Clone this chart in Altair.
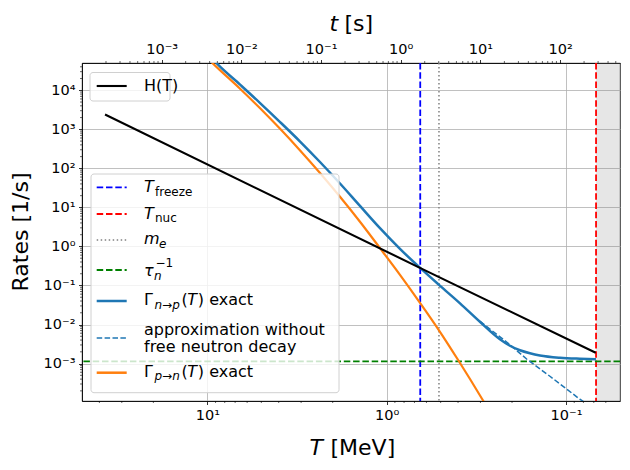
import altair as alt
import pandas as pd

# ---------------- data ----------------
T_H = [37.2, 0.644, 0.0683]
R_H = [2390.0, 0.275, 1.89e-3]

T_NP = [9.53, 8.83, 6.57, 5.08, 3.93, 3.04, 2.354, 1.821, 1.409, 1.090, 0.843, 0.644,
        0.511, 0.390, 0.302, 0.2336, 0.2055, 0.1807, 0.1589, 0.1398, 0.1081, 0.0837, 0.0681]
R_NP = [7.03e4, 4.82e4, 1.40e4, 4706, 1537, 487, 145.6, 41.0, 10.9, 2.93, 0.866, 0.270,
        0.1039, 0.0349, 0.01175, 4.19e-3, 2.86e-3, 2.19e-3, 1.837e-3, 1.614e-3, 1.41e-3,
        1.329e-3, 1.29e-3]

T_APPROX = [0.302, 0.2135, 0.1652, 0.123, 0.0837, 0.0736]
R_APPROX = [0.0121, 3.52e-3, 1.29e-3, 4.74e-4, 1.22e-4, 8.3e-5]

T_PN = [10.17, 9.29, 6.57, 5.08, 3.93, 3.04, 2.354, 1.821, 1.409, 1.090, 0.843, 0.652,
        0.511, 0.4004, 0.2942, 0.2655]
R_PN = [7.28e4, 4.82e4, 1.099e4, 3463, 1029, 288.4, 76.2, 18.75, 4.30, 0.908, 0.1873,
        0.036, 7.12e-3, 1.253e-3, 1.26e-4, 5.69e-5]

T_FREEZE = [0.65]
T_NUC = [0.068]
M_E = [0.511]
TAU_INV = [1.136e-3]

T_MIN, T_MAX = 0.05, 50.0
R_MIN, R_MAX = 1.1e-4, 5.0e4
t_MIN, t_MAX = 1.0e-4, 565.0

X_MAJOR = [10.0, 1.0, 0.1]
X_MINOR = [40, 30, 20, 9, 8, 7, 6, 5, 4, 3, 2, 0.9, 0.8, 0.7, 0.6, 0.5, 0.4, 0.3, 0.2,
           0.09, 0.08, 0.07, 0.06]
Y_MAJOR = [1e-3, 1e-2, 1e-1, 1.0, 10.0, 1e2, 1e3, 1e4]
Y_MINOR = [k * 10.0 ** d for d in range(-4, 5) for k in range(2, 10)
           if R_MIN < k * 10.0 ** d < R_MAX]
t_MAJOR = [1e-3, 1e-2, 1e-1, 1.0, 10.0, 1e2]
t_MINOR = [k * 10.0 ** d for d in range(-4, 3) for k in range(2, 10)
           if t_MIN < k * 10.0 ** d < t_MAX]

LEG1 = ["H(T)"]
LEG2_APPROX = ["approximation without", "free neutron decay"]

# ---------------- layout ----------------
W, H = 538, 338
FONT = "DejaVu Sans"
C_NP = "#1f77b4"
C_PN = "#ff7f0e"

SUP = str.maketrans("-0123456789", "⁻⁰¹²³⁴⁵⁶⁷⁸⁹")


def pow_expr(exps):
    expr = "''"
    for e in exps:
        lab = "10" + str(e).translate(SUP)
        expr = f"(round(log(datum.value)/LN10) == {e} ? '{lab}' : {expr})"
    return expr


xscale = alt.Scale(type="log", domain=[T_MIN, T_MAX], reverse=True, nice=False)
yscale = alt.Scale(type="log", domain=[R_MIN, R_MAX], nice=False)
tscale = alt.Scale(type="log", domain=[t_MIN, t_MAX], nice=False)

xaxis = alt.Axis(values=X_MAJOR, labelExpr=pow_expr([1, 0, -1]), title=None, grid=True,
                 orient="bottom")
yaxis = alt.Axis(values=Y_MAJOR, labelExpr=pow_expr(list(range(-3, 5))), title=None,
                 grid=True, orient="left")
taxis = alt.Axis(values=t_MAJOR, labelExpr=pow_expr(list(range(-3, 3))), title=None,
                 grid=False, orient="top")


def X():
    return alt.X("T:Q", scale=xscale, axis=xaxis)


def Y():
    return alt.Y("R:Q", scale=yscale, axis=yaxis)


ONE = alt.Data(values=[{"k": 0}])


def txt(x, y, s, size=16, italic=False, angle=0, align="left", baseline="middle"):
    return alt.Chart(ONE).mark_text(
        text=s, font=FONT, fontSize=size, fontStyle="italic" if italic else "normal",
        align=align, baseline=baseline, angle=angle, color="black"
    ).encode(x=alt.value(x), y=alt.value(y))


def sample(y, color, width, dash=None):
    kw = dict(color=color, strokeWidth=width)
    if dash:
        kw["strokeDash"] = dash
    return alt.Chart(ONE).mark_rule(**kw).encode(
        x=alt.value(14.7), x2=alt.value(44.7), y=alt.value(y))


def box(x0, x1, y0, y1):
    return alt.Chart(ONE).mark_rect(
        fill="white", fillOpacity=0.8, stroke="#d0d0d0", strokeWidth=1, cornerRadius=3
    ).encode(x=alt.value(x0), x2=alt.value(x1), y=alt.value(y0), y2=alt.value(y1))


DASH = [6.5, 2.8]

shade = alt.Chart(pd.DataFrame({"T": T_NUC, "T2": [T_MIN]})).mark_rect(
    color="gray", opacity=0.2).encode(x=X(), x2="T2:Q", y=alt.value(0), y2=alt.value(H))

x_minor = alt.Chart(pd.DataFrame({"T": X_MINOR})).mark_rule(
    color="black", strokeWidth=0.6).encode(x=X(), y=alt.value(H), y2=alt.value(H + 2))
y_minor = alt.Chart(pd.DataFrame({"R": Y_MINOR})).mark_rule(
    color="black", strokeWidth=0.6).encode(y=Y(), x=alt.value(-2), x2=alt.value(0))

v_freeze = alt.Chart(pd.DataFrame({"T": T_FREEZE})).mark_rule(
    color="blue", strokeWidth=1.8, strokeDash=DASH).encode(x=X())
v_nuc = alt.Chart(pd.DataFrame({"T": T_NUC})).mark_rule(
    color="red", strokeWidth=1.8, strokeDash=DASH).encode(x=X())
v_me = alt.Chart(pd.DataFrame({"T": M_E})).mark_rule(
    color="gray", strokeWidth=1.5, strokeDash=[1.5, 2.5]).encode(x=X())
h_tau = alt.Chart(pd.DataFrame({"R": TAU_INV})).mark_rule(
    color="green", strokeWidth=1.8, strokeDash=DASH).encode(y=Y())

line_np = alt.Chart(pd.DataFrame({"T": T_NP, "R": R_NP})).mark_line(
    color=C_NP, strokeWidth=2.5, clip=True, interpolate="monotone").encode(x=X(), y=Y())
line_approx = alt.Chart(pd.DataFrame({"T": T_APPROX, "R": R_APPROX})).mark_line(
    color=C_NP, strokeWidth=1.5, strokeDash=[5.5, 2.4], clip=True).encode(x=X(), y=Y())
line_pn = alt.Chart(pd.DataFrame({"T": T_PN, "R": R_PN})).mark_line(
    color=C_PN, strokeWidth=2.2, clip=True, interpolate="monotone").encode(x=X(), y=Y())
line_h = alt.Chart(pd.DataFrame({"T": T_H, "R": R_H})).mark_line(
    color="black", strokeWidth=2.1, clip=True).encode(x=X(), y=Y())

# legend 1
leg1 = [box(8, 88, 9.5, 38), sample(23, "black", 2.1), txt(62, 23, LEG1[0])]

# legend 2
SUB = 12
leg2 = [
    box(9, 257, 111, 329.7),
    sample(124.3, "blue", 1.8, DASH),
    txt(62, 124.3, "T", italic=True), txt(73, 128.5, "freeze", size=SUB),
    sample(151, "red", 1.8, DASH),
    txt(62, 151, "T", italic=True), txt(73, 155.2, "nuc", size=SUB),
    sample(177, "gray", 1.5, [1.5, 2.5]),
    txt(62, 176, "m", italic=True), txt(77, 180.5, "e", size=SUB, italic=True),
    sample(207, "green", 1.8, DASH),
    txt(62, 208, "τ", italic=True), txt(72, 212.5, "n", size=SUB, italic=True),
    txt(73.5, 200, "−1", size=SUB),
    sample(238, C_NP, 2.5),
    txt(62, 237, "Γ"), txt(72.5, 241.5, "n→p", size=SUB, italic=True),
    txt(99.5, 237, "("), txt(105.3, 237, "T", italic=True), txt(115.8, 237, ") exact"),
    sample(275, C_NP, 1.5, [5.5, 2.4]),
    txt(62, 266.5, LEG2_APPROX[0]), txt(62, 284, LEG2_APPROX[1]),
    sample(309.7, C_PN, 2.5),
    txt(62, 308.7, "Γ"), txt(72.5, 313.2, "p→n", size=SUB, italic=True),
    txt(99.5, 308.7, "("), txt(105.3, 308.7, "T", italic=True), txt(115.8, 308.7, ") exact"),
]

titles = [
    txt(227.5, 392, "T", size=22, italic=True, baseline="alphabetic"),
    txt(248.5, 392, "[MeV]", size=22, baseline="alphabetic"),
    txt(247.5, -32.2, "t", size=22, italic=True, baseline="alphabetic"),
    txt(262.5, -32.2, "[s]", size=22, baseline="alphabetic"),
    txt(-61, H / 2, "Rates [1/s]", size=22, angle=270, align="center"),
]

main = alt.layer(
    shade, x_minor, y_minor, v_freeze, v_nuc, v_me, h_tau,
    line_np, line_approx, line_pn,
    *leg2, line_h, *leg1, *titles,
)

top = alt.Chart(pd.DataFrame({"t": t_MINOR})).mark_rule(
    color="black", strokeWidth=0.6).encode(
    x=alt.X("t:Q", scale=tscale, axis=taxis), y=alt.value(-2), y2=alt.value(0))

chart = alt.layer(main, top).resolve_scale(x="independent").properties(
    width=W, height=H,
    autosize=alt.AutoSizeParams(type="none"),
    padding={"left": 74, "top": 55, "right": 1, "bottom": 60},
).configure_view(stroke="black", strokeWidth=0.8).configure_axis(
    labelFont=FONT, labelFontSize=14.5, labelColor="black", tickColor="black",
    tickWidth=0.8, tickSize=3.5, labelPadding=3.5, domainColor="black",
    domainWidth=0.8, gridColor="#b0b0b0", gridWidth=0.8,
)

chart.save("out.html", embed_options={"renderer": "svg", "actions": False})
